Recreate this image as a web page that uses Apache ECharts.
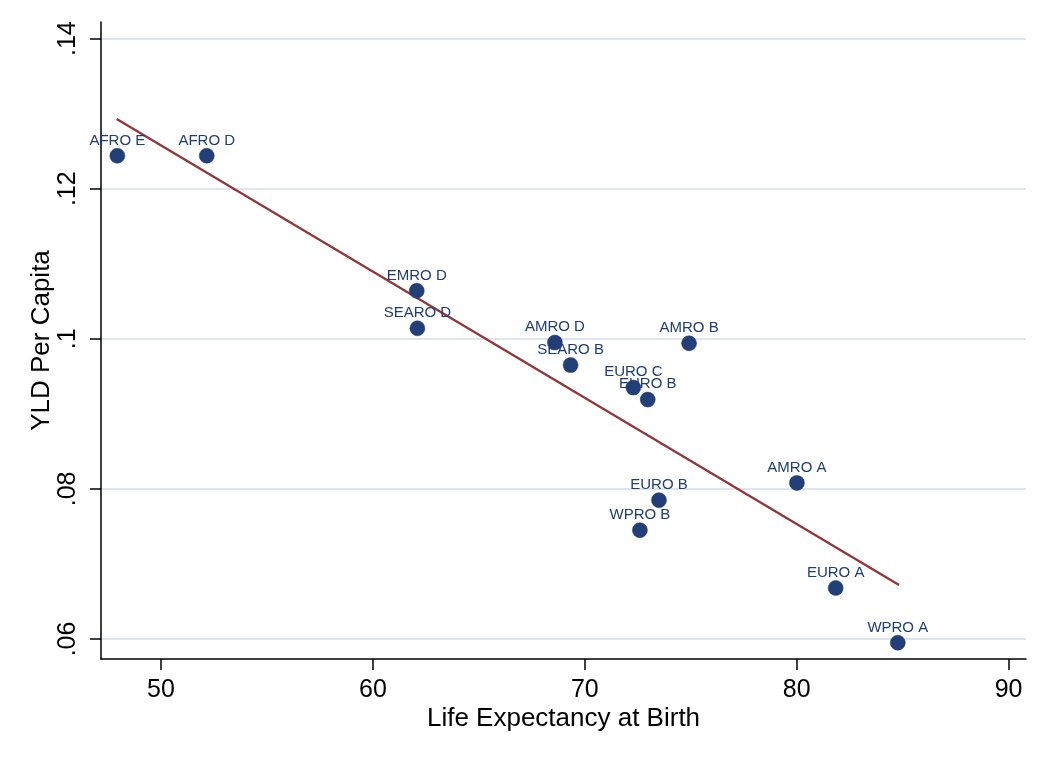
<!DOCTYPE html>
<html>
<head>
<meta charset="utf-8">
<script src="https://cdn.jsdelivr.net/npm/echarts@6/dist/echarts.min.js"></script>
<style>
html,body{margin:0;padding:0;background:#fff;}
#chart{width:1050px;height:763px;}
</style>
</head>
<body>
<div id="chart"></div>
<script>
const regions = ['AFRO E','AFRO D','EMRO D','SEARO D','AMRO D','AMRO B','SEARO B','EURO C','EURO B','AMRO A','EURO B','WPRO B','EURO A','WPRO A'];
const lifeExpectancy = [47.94, 52.16, 62.07, 62.10, 68.59, 74.92, 69.33, 72.29, 72.97, 80.01, 73.50, 72.60, 81.84, 84.77];
const yldPerCapita = [0.1244, 0.1244, 0.1064, 0.1014, 0.0995, 0.0994, 0.0965, 0.0935, 0.0919, 0.0808, 0.0785, 0.0745, 0.0668, 0.0595];
const fitX = [47.91, 84.83];
const fitY = [0.1293, 0.0672];
const xTicks = [50, 60, 70, 80, 90];
const yTicks = [0.06, 0.08, 0.10, 0.12, 0.14];
const yTickLabels = ['.06', '.08', '.1', '.12', '.14'];

const font = 'Liberation Sans, Arial, Helvetica, sans-serif';
const chart = echarts.init(document.getElementById('chart'), null, {renderer: 'canvas'});

const scatterData = regions.map((r, i) => ({name: r, value: [lifeExpectancy[i], yldPerCapita[i]]}));
const fitData = fitX.map((x, i) => [x, fitY[i]]);

chart.setOption({
  animation: false,
  backgroundColor: '#ffffff',
  grid: {left: 101, right: 24, top: 22, bottom: 104, containLabel: false},
  xAxis: {
    type: 'value',
    min: 47.17,
    max: 90.82,
    name: 'Life Expectancy at Birth',
    nameLocation: 'middle',
    nameGap: 47,
    nameMoveOverlap: false,
    nameTextStyle: {fontFamily: font, fontSize: 26, color: '#000'},
    axisLine: {show: true, onZero: false, lineStyle: {color: '#000', width: 1.5}},
    axisTick: {show: true, length: 11, lineStyle: {color: '#000', width: 1.5}, customValues: xTicks},
    axisLabel: {fontFamily: font, fontSize: 25, color: '#000', margin: 19, customValues: xTicks},
    splitLine: {show: false}
  },
  yAxis: {
    type: 'value',
    min: 0.05733,
    max: 0.14222,
    name: 'YLD Per Capita',
    nameLocation: 'middle',
    nameGap: 46,
    nameMoveOverlap: false,
    nameRotate: 90,
    nameTextStyle: {fontFamily: font, fontSize: 26, color: '#000'},
    axisLine: {show: true, onZero: false, lineStyle: {color: '#000', width: 1.5}},
    axisTick: {show: true, length: 11, lineStyle: {color: '#000', width: 1.5}, customValues: yTicks},
    axisLabel: {
      fontFamily: font, fontSize: 25, color: '#000', margin: 20, rotate: 90,
      customValues: yTicks,
      formatter: v => {
        const i = yTicks.findIndex(t => Math.abs(t - v) < 1e-9);
        return i >= 0 ? yTickLabels[i] : '';
      }
    },
    splitLine: {show: true, lineStyle: {color: '#dfe5ef', width: 2}}
  },
  series: [
    {
      type: 'line',
      data: fitData,
      symbol: 'none',
      lineStyle: {color: '#903539', width: 2.2},
      z: 3,
      silent: true
    },
    {
      type: 'scatter',
      data: scatterData,
      symbol: 'circle',
      symbolSize: 15,
      itemStyle: {color: '#233f78', borderColor: '#1a3368', borderWidth: 0.5, opacity: 1},
      label: {
        show: true,
        position: 'top',
        distance: 0,
        formatter: '{b}',
        fontFamily: font,
        fontSize: 15,
        color: '#1f3d73',
        opacity: 1
      },
      labelLayout: {hideOverlap: false},
      z: 4
    }
  ]
});
</script>
</body>
</html>
